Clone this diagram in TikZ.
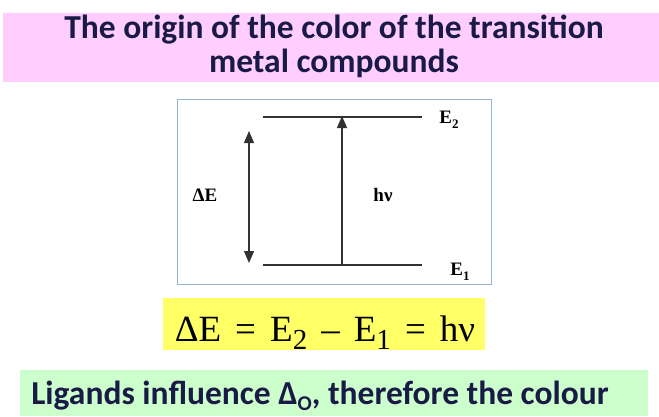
\documentclass[tikz,border=0pt]{standalone}
\usepackage{fontspec}
\setmainfont{Carlito}
\newfontfamily\timesf{Liberation Serif}
\usetikzlibrary{arrows.meta}
\definecolor{titlepink}{RGB}{255,206,255}
\definecolor{navy}{RGB}{26,26,70}
\definecolor{lightgreen}{RGB}{204,255,204}
\definecolor{eqyellow}{RGB}{255,255,102}
\definecolor{boxblue}{RGB}{149,179,215}
\definecolor{linegray}{RGB}{50,50,50}
\newcommand{\eqsp}{\hspace{0.38em}}
\tikzset{
  headtext/.style={font=\bfseries\fontsize{33.5}{34}\selectfont, text=navy, anchor=base, inner sep=0pt},
  level/.style={draw=linegray, line width=1.1pt},
  arr/.style={draw=linegray, line width=1.3pt, -{Triangle[width=10pt,length=12pt]}},
  darr/.style={draw=linegray, line width=1.3pt, {Triangle[width=10pt,length=12pt]}-{Triangle[width=10pt,length=12pt]}},
  lbl/.style={font=\timesf\bfseries\fontsize{19}{20}\selectfont, text=black, inner sep=0pt, anchor=base},
}
\begin{document}
\begin{tikzpicture}[x=1pt,y=-1pt]
\useasboundingbox (0,0) rectangle (659,416);
\fill[white] (0,0) rectangle (659,416);
% title banner
\fill[titlepink] (3,13) rectangle (659,82);
\node[headtext] (title1) at (334,38) {The origin of the color of the transition};
\node[headtext] (title2) at (334,72) {metal compounds};
% diagram box
\draw[boxblue, line width=1pt] (177,99) rectangle (491,284);
\coordinate (e2l) at (263,117);
\coordinate (e2r) at (422,117);
\coordinate (e1l) at (263,265);
\coordinate (e1r) at (422,265);
\draw[level] (e2l) -- (e2r);
\draw[level] (e1l) -- (e1r);
\coordinate (dtop) at (249,131);
\coordinate (dbot) at (249,263);
\draw[darr] (dbot) -- (dtop);
\coordinate (hbot) at (342,265);
\coordinate (htop) at (342,116);
\draw[arr] (hbot) -- (htop);
\node[lbl] (de) at (205,201) {ΔE};
\node[lbl] (hv) at (383,201) {hν};
\node[lbl] (E2) at (449,123) {E\raisebox{-0.3em}{\fontsize{13}{13}\selectfont 2}};
\node[lbl] (E1) at (460,275) {E\raisebox{-0.3em}{\fontsize{13}{13}\selectfont 1}};
% equation
\fill[eqyellow] (163,298) rectangle (485,350);
\node[font=\timesf\fontsize{37}{40}\selectfont, inner sep=0pt, anchor=base] (eq) at (325,341)
  {ΔE\eqsp=\eqsp E\raisebox{-0.22em}{\fontsize{29}{29}\selectfont 2}\eqsp–\eqsp E\raisebox{-0.22em}{\fontsize{29}{29}\selectfont 1}\eqsp=\eqsp hν};
% bottom banner
\fill[lightgreen] (20,370) rectangle (648,416);
\node[headtext] (lig) at (320,404)
  {Ligands influence Δ\raisebox{-0.2em}{\fontsize{21}{21}\selectfont O}, therefore the colour};
\end{tikzpicture}
\end{document}
